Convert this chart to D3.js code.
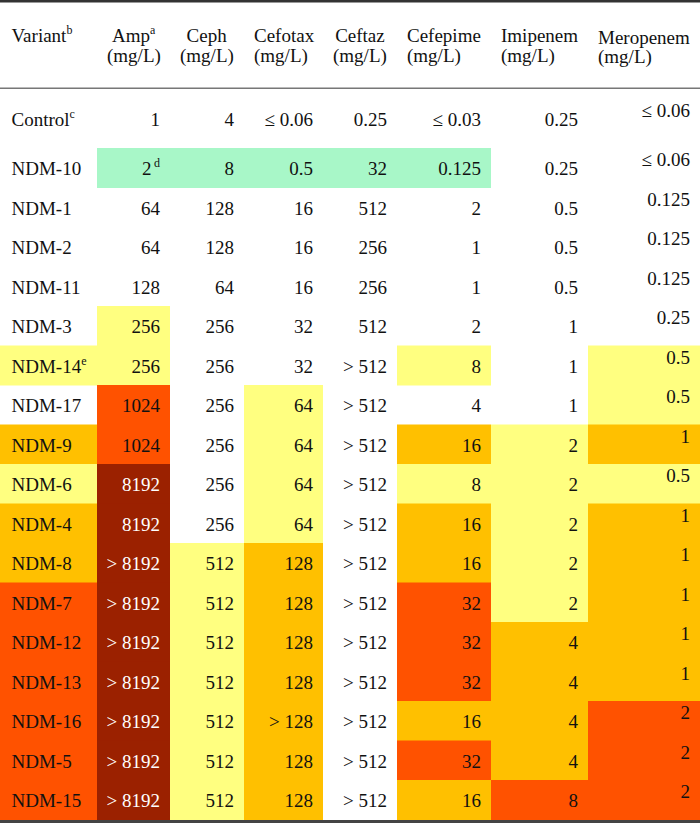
<!DOCTYPE html>
<html><head><meta charset="utf-8">
<script src="https://cdn.jsdelivr.net/npm/d3@7"></script>
<style>body{margin:0;background:#fff}svg{display:block}svg text{font-family:"Liberation Serif","Times New Roman",serif}</style>
</head><body><svg id="c" width="700" height="823"></svg>
<script>
// ---- data ----
const variants = ["Control","NDM-10","NDM-1","NDM-2","NDM-11","NDM-3","NDM-14","NDM-17","NDM-9","NDM-6","NDM-4","NDM-8","NDM-7","NDM-12","NDM-13","NDM-16","NDM-5","NDM-15"];
const variantSup = ["c","","","","","","e","","","","","","","","","","",""];
const headers = ["Variant","Amp","Ceph","Cefotax","Ceftaz","Cefepime","Imipenem","Meropenem"];
const headerSup = ["b","a","","","","","",""];
const unitLabel = "(mg/L)";

const amp = ["1","2","64","64","128","256","256","1024","1024","8192","8192","> 8192","> 8192","> 8192","> 8192","> 8192","> 8192","> 8192"];
const ampSup = ["","d","","","","","","","","","","","","","","","",""];
const ceph = ["4","8","128","128","64","256","256","256","256","256","256","512","512","512","512","512","512","512"];
const cefotax = ["≤ 0.06","0.5","16","16","16","32","32","64","64","64","64","128","128","128","128","> 128","128","128"];
const ceftaz = ["0.25","32","512","256","256","512","> 512","> 512","> 512","> 512","> 512","> 512","> 512","> 512","> 512","> 512","> 512","> 512"];
const cefepime = ["≤ 0.03","0.125","2","1","1","2","8","4","16","8","16","16","32","32","32","16","32","16"];
const imipenem = ["0.25","0.25","0.5","0.5","0.5","1","1","1","2","2","2","2","2","4","4","4","4","8"];
const meropenem = ["≤ 0.06","≤ 0.06","0.125","0.125","0.125","0.25","0.5","0.5","1","0.5","1","1","1","1","1","2","2","2"];

// highlight level per cell: 0 none, 1 yellow, 2 orange, 3 red, 4 dark red, 5 green
const variantLvl  = [0,0,0,0,0,0,1,0,2,1,2,2,3,3,3,3,3,3];
const ampLvl      = [0,5,0,0,0,1,1,3,3,4,4,4,4,4,4,4,4,4];
const cephLvl     = [0,5,0,0,0,0,0,0,0,0,0,1,1,1,1,1,1,1];
const cefotaxLvl  = [0,5,0,0,0,0,0,1,1,1,1,2,2,2,2,2,2,2];
const ceftazLvl   = [0,5,0,0,0,0,0,0,0,0,0,0,0,0,0,0,0,0];
const cefepimeLvl = [0,5,0,0,0,0,1,0,2,1,2,2,3,3,3,2,3,2];
const imipenemLvl = [0,0,0,0,0,0,0,0,1,1,1,1,1,2,2,2,2,3];
const meropenemLvl= [0,0,0,0,0,0,1,1,2,1,2,2,2,2,2,3,3,3];

// ---- layout ----
const svg = d3.select("#c");
const FONT = '"Liberation Serif","Times New Roman",serif';
const FS = 19;
const colEdges = [0, 97, 170, 244, 323, 397, 491, 588, 700];
const color = d3.scaleOrdinal().domain([0,1,2,3,4,5])
  .range(["#ffffff","#ffff80","#ffc000","#ff5200","#9b2100","#a8f7c8"]);
const y = d3.scaleBand().domain(variants).range([108.5, 819.5]).paddingInner(0).paddingOuter(0);

const columns = [
  {vals: variants, sup: variantSup, lvl: variantLvl, label:true},
  {vals: amp, sup: ampSup, lvl: ampLvl},
  {vals: ceph, lvl: cephLvl},
  {vals: cefotax, lvl: cefotaxLvl},
  {vals: ceftaz, lvl: ceftazLvl},
  {vals: cefepime, lvl: cefepimeLvl},
  {vals: imipenem, lvl: imipenemLvl},
  {vals: meropenem, lvl: meropenemLvl, raised:true}
];

const cells = [];
columns.forEach((c, ci) => {
  variants.forEach((v, ri) => {
    cells.push({ci, ri, v, text: c.vals[ri], sup: c.sup ? c.sup[ri] : "", lvl: c.lvl[ri], label: !!c.label, raised: !!c.raised});
  });
});

// backgrounds
svg.append("g").selectAll("rect").data(cells.filter(d => d.lvl > 0)).join("rect")
  .attr("x", d => colEdges[d.ci])
  .attr("y", d => y(d.v))
  .attr("width", d => colEdges[d.ci+1] - colEdges[d.ci])
  .attr("height", y.bandwidth() + 0.5)
  .attr("fill", d => color(d.lvl));

// cell text
const tg = svg.append("g");
cells.forEach(d => {
  const shift = d.ri === 0 ? -10 : 0;
  const base = y(d.v) + (d.raised ? 18 : 27) + shift;
  const t = tg.append("text")
    .style("font-family", FONT).style("font-size", FS + "px")
    .attr("y", base)
    .attr("fill", d.lvl === 4 ? "#ffffff" : "#111");
  if (d.label) {
    t.attr("x", 11.5).attr("text-anchor", "start");
  } else {
    t.attr("x", colEdges[d.ci+1] - 10).attr("text-anchor", "end");
  }
  t.append("tspan").text(d.text);
  if (d.sup) {
    t.append("tspan").style("font-size", "12px").attr("dy", -8)
      .text((d.label ? "" : "\u2009") + d.sup);
  }
});

// header
const hg = svg.append("g").attr("fill", "#111");
headers.forEach((h, i) => {
  const x0 = colEdges[i] + (i === 0 ? 11.5 : 10);
  const dy = i === 7 ? 1.5 : 0;
  const l1 = hg.append("text").style("font-family", FONT).style("font-size", FS + "px")
    .attr("x", x0).attr("y", 42 + dy);
  l1.append("tspan").text(h);
  if (headerSup[i]) l1.append("tspan").style("font-size", "12px").attr("dy", -8).text(headerSup[i]);
  if (i > 0) {
    const l2 = hg.append("text").style("font-family", FONT).style("font-size", FS + "px")
      .attr("x", x0).attr("y", 61.5 + dy).text(unitLabel);
    const w1 = l1.node().getBBox().width, w2 = l2.node().getBBox().width;
    if (w1 < w2) l1.attr("x", x0 + (w2 - w1) / 2);
  }
});

// rules
svg.append("rect").attr("x", 0).attr("y", 0).attr("width", 700).attr("height", 2.5).attr("fill", "#333");
svg.append("rect").attr("x", 0).attr("y", 87.5).attr("width", 700).attr("height", 1.5).attr("fill", "#777");
svg.append("rect").attr("x", 0).attr("y", 820).attr("width", 700).attr("height", 3).attr("fill", "#444");
</script></body></html>
